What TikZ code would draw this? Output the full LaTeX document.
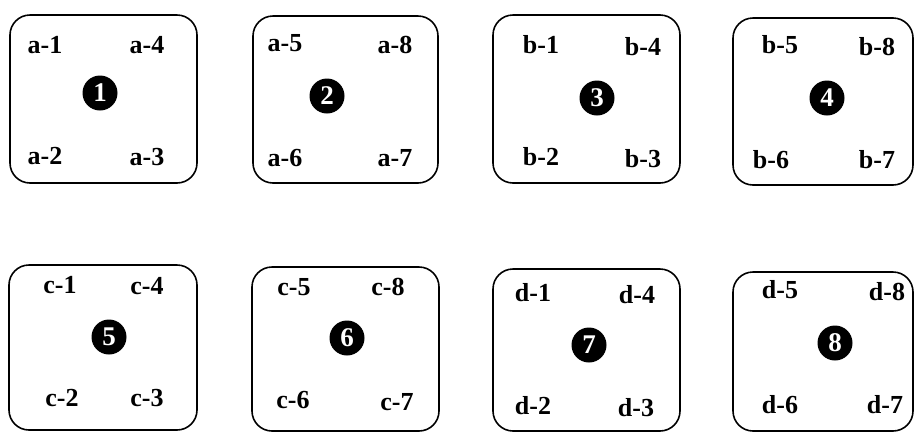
\documentclass[tikz,border=0pt]{standalone}
\usepackage{fontspec}
\setmainfont{Liberation Serif}
\begin{document}
\begin{tikzpicture}[x=1pt,y=-1pt,
  panel/.style={draw,rounded corners=20pt,line width=1.6pt,inner sep=0pt},
  lab/.style={font=\bfseries\fontsize{26}{28}\selectfont,inner sep=0pt},
  num/.style={circle,fill=black,text=white,minimum size=35pt,inner sep=0pt,font=\bfseries\fontsize{27}{29}\selectfont}]
\useasboundingbox[fill=white] (0,0) rectangle (914,432);
% row 1
\node[panel,minimum width=187pt,minimum height=168pt] (p1) at (103.5,99) {};
\node[panel,minimum width=185pt,minimum height=167pt] (p2) at (345.5,99.5) {};
\node[panel,minimum width=187pt,minimum height=168pt] (p3) at (586.5,99) {};
\node[panel,minimum width=180pt,minimum height=167pt] (p4) at (823,101.5) {};
% row 2
\node[panel,minimum width=188pt,minimum height=165pt] (p5) at (103,347.5) {};
\node[panel,minimum width=187pt,minimum height=164pt] (p6) at (345.5,349) {};
\node[panel,minimum width=187pt,minimum height=162pt] (p7) at (586.5,350) {};
\node[panel,minimum width=180pt,minimum height=159pt] (p8) at (823,351.5) {};
% panel 1
\node[lab] (a1) at (45,45) {a-1};
\node[lab] (a4) at (147,45) {a-4};
\node[num] (n1) at (100,93) {1};
\node[lab] (a2) at (45,156) {a-2};
\node[lab] (a3) at (147,157) {a-3};
% panel 2
\node[lab] (a5) at (285,43) {a-5};
\node[lab] (a8) at (395,45) {a-8};
\node[num] (n2) at (327,96) {2};
\node[lab] (a6) at (285,158) {a-6};
\node[lab] (a7) at (395,158) {a-7};
% panel 3
\node[lab] (b1) at (541,45) {b-1};
\node[lab] (b4) at (643,47) {b-4};
\node[num] (n3) at (597,98) {3};
\node[lab] (b2) at (541,157) {b-2};
\node[lab] (b3) at (643,159) {b-3};
% panel 4
\node[lab] (b5) at (780,45) {b-5};
\node[lab] (b8) at (877,47) {b-8};
\node[num] (n4) at (827,98) {4};
\node[lab] (b6) at (771,160) {b-6};
\node[lab] (b7) at (877,160) {b-7};
% panel 5
\node[lab] (c1) at (60,285) {c-1};
\node[lab] (c4) at (147,286) {c-4};
\node[num] (n5) at (109,337) {5};
\node[lab] (c2) at (62,398) {c-2};
\node[lab] (c3) at (147,398) {c-3};
% panel 6
\node[lab] (c5) at (294,287) {c-5};
\node[lab] (c8) at (388,287) {c-8};
\node[num] (n6) at (347,338) {6};
\node[lab] (c6) at (293,400) {c-6};
\node[lab] (c7) at (397,402) {c-7};
% panel 7
\node[lab] (d1) at (533,293) {d-1};
\node[lab] (d4) at (637,295) {d-4};
\node[num] (n7) at (589,345) {7};
\node[lab] (d2) at (533,406) {d-2};
\node[lab] (d3) at (636,408) {d-3};
% panel 8
\node[lab] (d5) at (780,290) {d-5};
\node[lab] (d8) at (887,292) {d-8};
\node[num] (n8) at (835,343) {8};
\node[lab] (d6) at (780,405) {d-6};
\node[lab] (d7) at (885,405) {d-7};
\end{tikzpicture}
\end{document}
